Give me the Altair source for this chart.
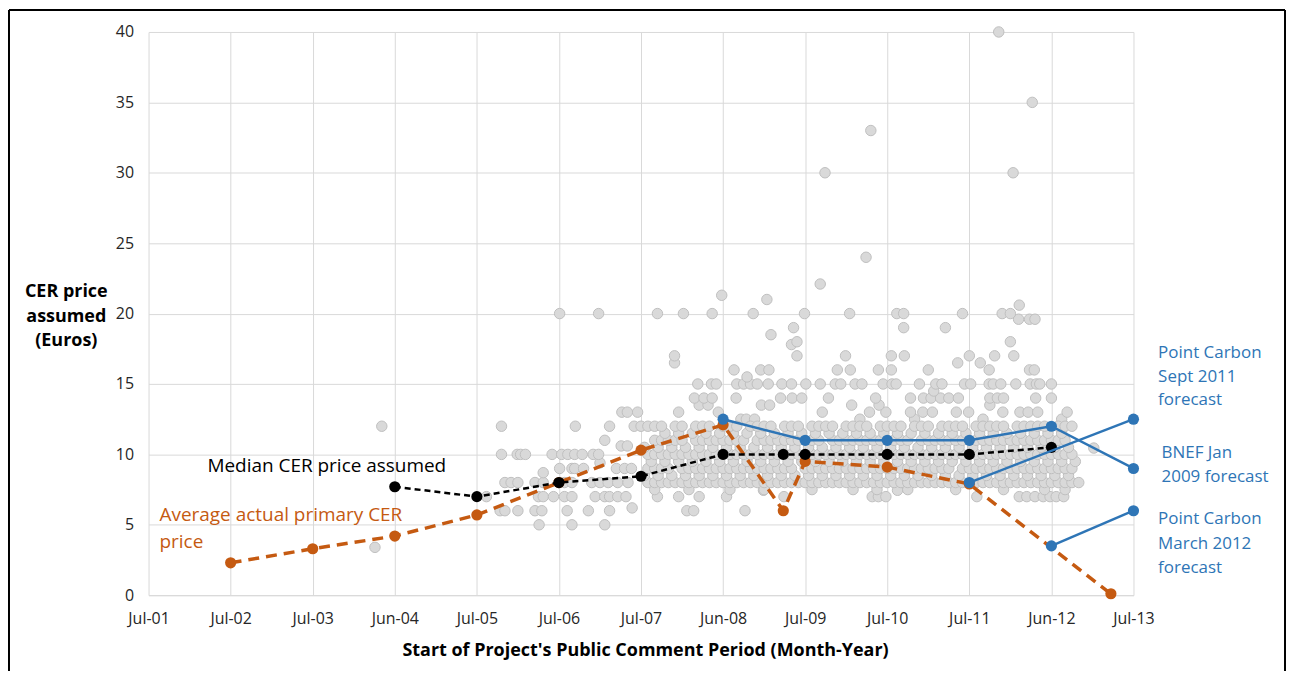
import altair as alt
import pandas as pd

# ---------------- axis ticks ----------------
tick_months = [0, 12, 24, 36, 48, 60, 72, 84, 96, 108, 120, 132, 144]
tick_labels = ["Jul-01", "Jul-02", "Jul-03", "Jun-04", "Jul-05", "Jul-06", "Jul-07",
               "Jun-08", "Jul-09", "Jul-10", "Jul-11", "Jun-12", "Jul-13"]
y_ticks = [0, 5, 10, 15, 20, 25, 30, 35, 40]

# ---------------- scatter: CER price assumed by projects (months since Jul-01) ----------------
sparse_by_price = {
    3.4: [33.1],
    5.0: [57.1, 61.9, 66.7],
    6.0: [51.4, 52.1, 54.0, 56.5, 57.5, 61.2, 64.3, 67.4, 78.7, 79.7, 87.2],
    6.2: [70.7],
    7.0: [49.4, 57.0, 57.7, 59.2, 60.8, 61.9, 65.3, 66.7, 67.4, 68.6, 69.8, 74.4, 77.5, 80.5,
          84.5, 92.9, 105.8, 106.7, 107.8, 121.1, 127.3, 128.4, 129.6, 130.8, 131.8, 132.7, 133.8],
    7.45: [89.9, 109.5],
    8.0: [52.1, 53.0, 54.0, 56.5, 57.7, 60.8, 61.9, 64.8, 66.0, 67.2, 68.6, 70.1],
    8.7: [57.7],
    9.0: [60.1, 61.9, 62.3, 63.6, 68.4, 69.6, 70.6],
    9.4: [66.0],
    10.0: [51.6, 53.9, 54.4, 55.1, 59.0, 60.4, 61.3, 62.3, 63.4, 65.0, 65.8],
    10.45: [138.2],
    10.6: [69.1, 70.0],
    11.0: [66.7],
    12.0: [34.1, 51.6, 62.4, 67.4, 71.0],
    12.5: [86.6, 87.4, 88.6, 104.0, 112.0, 122.0, 133.5],
    13.0: [69.2, 70.0, 71.5, 77.5, 83.3, 98.5, 105.4, 107.8, 111.4, 113.2, 114.6, 118.1, 119.9,
           124.9, 127.4, 128.6, 130.0, 134.3],
    13.5: [80.5, 81.8, 89.6, 90.8, 102.8, 106.8, 123.0],
    14.0: [79.8, 81.2, 82.4, 85.9, 92.4, 94.1, 95.5, 99.4, 106.3, 111.4, 113.3, 114.4, 115.8,
           117.0, 118.4, 123.0, 124.1, 125.0, 129.7, 132.0],
    14.5: [114.8],
    15.0: [80.3, 82.3, 83.0, 86.0, 87.0, 88.0, 89.0, 90.6, 92.6, 94.0, 96.1, 98.2, 100.4, 101.2,
           103.3, 104.3, 107.4, 108.7, 109.3, 112.7, 115.1, 116.0, 119.3, 120.2, 122.9, 123.5,
           124.6, 126.8, 128.9, 129.8, 130.3, 132.0],
    15.5: [87.5],
    16.0: [85.6, 89.5, 90.7, 100.7, 102.6, 106.7, 108.6, 114.0, 122.9, 128.8, 129.5],
    16.5: [76.9, 118.3, 121.6],
    17.0: [76.9, 94.8, 101.9, 108.6, 110.5, 120.0, 123.7, 126.5],
    17.8: [94.0],
    18.0: [94.8, 126.0],
    18.5: [91.0],
    19.0: [94.3, 110.4, 116.5],
    19.6: [127.2, 128.8, 129.6],
    20.0: [60.1, 65.8, 74.4, 78.2, 82.4, 88.4, 95.9, 102.5, 109.4, 110.4, 119.0, 124.8, 126.0],
    20.6: [127.3],
    21.0: [90.4],
    21.3: [83.8],
    22.1: [98.2],
    24.0: [104.9],
    30.0: [98.9, 126.4],
    33.0: [105.6],
    35.0: [129.2],
    40.0: [124.3],
}

# dense band of projects (2007-2012)
band_7_5 = [74, 79, 85, 90, 97, 103, 106.5, 111, 118, 125, 131, 134]
band_8_0 = [73, 74, 75, 76, 77, 78, 79, 80, 81, 82, 83, 84, 85, 86, 87, 88, 89, 90, 91, 92, 93,
            94, 95, 96, 97, 98, 99, 100, 101, 102, 103, 104, 105, 106, 107, 108, 109, 110, 111,
            112, 113, 114, 115, 116, 117, 118, 119, 120, 121, 122, 123, 124, 125, 126, 127, 128,
            129, 130, 131, 132, 133, 134, 135, 136]
band_8_5 = [72.5, 74.5, 76.5, 78.5, 80.5, 82.5, 84.5, 86.5, 88.5, 90.5, 92.5, 94.5, 96.5, 98.5,
            100.5, 102.5, 104.5, 106.5, 108.5, 110.5, 112.5, 114.5, 116.5, 118.5, 120.5, 122.5,
            124.5, 126.5, 128.5, 130.5, 132.5, 134.5]
band_9_0 = [73, 74, 75, 76, 78, 79, 80, 81, 82, 83, 84, 85, 86, 87, 88, 89, 90, 91, 92, 93, 94,
            96, 97, 98, 99, 100, 101, 102, 103, 104, 105, 106, 107, 108, 109, 110, 111, 112, 113,
            114, 115, 116, 117, 119, 120, 121, 122, 123, 124, 125, 126, 127, 128, 129, 130, 131,
            132, 133, 134, 135]
band_9_5 = [73.5, 75.5, 77.5, 79.5, 81.5, 83.5, 85.5, 87.5, 89.5, 91.5, 93.5, 95.5, 97.5, 99.5,
            101.5, 103.5, 105.5, 107.5, 109.5, 111.5, 113.5, 115.5, 117.5, 119.5, 121.5, 123.5,
            125.5, 127.5, 129.5, 131.5, 133.5, 135.5]
band_10_0 = [73, 74, 75, 76, 77, 78, 79, 80, 81, 82, 83, 84, 85, 86, 87, 88, 89, 90, 91, 92, 93,
             94, 95, 96, 97, 98, 99, 100, 101, 102, 103, 104, 105, 106, 107, 108, 109, 110, 111,
             112, 113, 114, 115, 116, 117, 118, 119, 120, 121, 122, 123, 124, 125, 126, 127, 128,
             129, 130, 131, 132, 133, 134, 135]
band_10_5 = [72.5, 74.5, 76.5, 78.5, 80.5, 82.5, 84.5, 86.5, 88.5, 90.5, 92.5, 94.5, 96.5, 98.5,
             100.5, 102.5, 104.5, 106.5, 108.5, 110.5, 112.5, 114.5, 116.5, 118.5, 120.5, 122.5,
             124.5, 126.5, 128.5, 130.5, 132.5, 134.5]
band_11_0 = [74, 75, 76, 77, 78, 80, 81, 82, 83, 84, 85, 86, 87, 89, 90, 91, 92, 93, 94, 95, 96,
             97, 98, 100, 101, 102, 103, 104, 105, 106, 107, 108, 109, 110, 111, 113, 114, 115,
             116, 117, 118, 119, 120, 121, 122, 123, 124, 125, 126, 127, 128, 129, 130, 131, 132,
             133, 134]
band_11_5 = [75.5, 77.5, 79.5, 81.5, 83.5, 85.5, 87.5, 89.5, 91.5, 93.5, 95.5, 97.5, 99.5,
             101.5, 103.5, 105.5, 107.5, 109.5, 111.5, 113.5, 115.5, 117.5, 119.5, 121.5, 123.5,
             125.5, 127.5, 129.5, 131.5, 133.5]
band_12_0 = [72, 73, 74, 75, 77, 78, 80, 81, 82, 84, 85, 86, 88, 89, 90, 91, 93, 94, 95, 97, 98,
             99, 100, 102, 103, 104, 105, 107, 108, 109, 110, 112, 113, 114, 116, 117, 118, 119,
             121, 122, 123, 124, 125, 127, 128, 129, 130, 131, 133, 134, 135]

band_rows = [(7.5, band_7_5), (8.0, band_8_0), (8.5, band_8_5), (9.0, band_9_0), (9.5, band_9_5),
             (10.0, band_10_0), (10.5, band_10_5), (11.0, band_11_0), (11.5, band_11_5),
             (12.0, band_12_0)]

# ---------------- lines ----------------
avg_months = [12, 24, 36, 48, 60, 72, 84, 92.8, 96, 108, 120, 140.7]
avg_prices = [2.3, 3.3, 4.2, 5.7, 8.0, 10.3, 12.1, 6.0, 9.5, 9.1, 7.9, 0.1]

median_months = [36, 48, 60, 72, 84, 92.8, 96, 108, 120, 132]
median_prices = [7.7, 7.0, 8.0, 8.45, 10.0, 10.0, 10.0, 10.0, 10.0, 10.5]

bnef_months = [84, 96, 108, 120, 132, 144]
bnef_prices = [12.5, 11.0, 11.0, 11.0, 12.0, 9.0]
pc_sept_months = [120, 144]
pc_sept_prices = [8.0, 12.5]
pc_march_months = [132, 144]
pc_march_prices = [3.5, 6.0]

# ---------------- annotations ----------------
ann_text = ["Median CER price assumed", "Average actual primary CER", "price",
            "Point Carbon", "Sept 2011", "forecast",
            "BNEF Jan", "2009 forecast",
            "Point Carbon", "March 2012", "forecast"]
ann_month = [8.6, 1.6, 1.6, 147.6, 147.6, 147.6, 148.1, 148.1, 147.6, 147.6, 147.6]
ann_price = [9.2, 5.66, 3.75, 17.2, 15.5, 13.85, 10.1, 8.4, 5.4, 3.65, 1.9]
ann_color = ["#000000", "#C55A11", "#C55A11"] + ["#2E75B6"] * 8
ann_size = [19, 19, 19] + [17] * 8

ORANGE = "#C55A11"
BLUE = "#2E75B6"
FONT = "Open Sans"

# ---------------- frames ----------------
pts = []
for p, ms in sparse_by_price.items():
    for m in ms:
        pts.append((m, p))
for p, ms in band_rows:
    for m in ms:
        pts.append((m, p))
scatter_df = pd.DataFrame(pts, columns=["month", "price"])

avg_df = pd.DataFrame({"month": avg_months, "price": avg_prices})
med_df = pd.DataFrame({"month": median_months, "price": median_prices})
fc_df = pd.concat([
    pd.DataFrame({"month": bnef_months, "price": bnef_prices, "series": "BNEF Jan 2009"}),
    pd.DataFrame({"month": pc_sept_months, "price": pc_sept_prices, "series": "PC Sept 2011"}),
    pd.DataFrame({"month": pc_march_months, "price": pc_march_prices, "series": "PC March 2012"}),
])
ann_df = pd.DataFrame({"month": ann_month, "price": ann_price, "text": ann_text,
                       "color": ann_color, "fs": ann_size})

label_expr = "[" + ",".join("'" + t + "'" for t in tick_labels) + "][round(datum.value / 12)]"

x_enc = alt.X(
    "month:Q",
    scale=alt.Scale(domain=[0, 144], nice=False, zero=False),
    axis=alt.Axis(
        values=tick_months, labelExpr=label_expr,
        title="Start of Project's Public Comment Period (Month-Year)",
        grid=True, gridColor="#D9D9D9", domain=True, domainColor="#D9D9D9",
        ticks=False, tickSize=0, labelPadding=15, labelFont=FONT, labelFontSize=16,
        labelColor="#262626", labelFlush=False, labelBound=False,
        titleFont=FONT, titleFontWeight="bold", titleFontSize=18,
        titleColor="#000000", titleX=498, titleY=55, titleBaseline="middle",
        titleAlign="center", labelOverlap=False,
    ),
)
y_enc = alt.Y(
    "price:Q",
    scale=alt.Scale(domain=[0, 40], nice=False),
    axis=alt.Axis(
        values=y_ticks, title=["CER price", "assumed", "(Euros)"],
        grid=True, gridColor="#D9D9D9", domain=False, ticks=False, tickSize=0,
        labelPadding=15, labelFont=FONT, labelFontSize=16, labelColor="#262626",
        labelFlush=False, labelBound=False,
        titleFont=FONT, titleFontWeight="bold", titleFontSize=18, titleColor="#000000",
        titleAngle=0, titleAlign="center", titleBaseline="middle", titleX=-83, titleY=260,
        titleLineHeight=25,
    ),
)

scatter = alt.Chart(scatter_df).mark_circle(
    size=110, color="#D9D9D9", stroke="#BFBFBF", strokeWidth=1, opacity=1
).encode(x=x_enc, y=y_enc)

avg_line = alt.Chart(avg_df).mark_line(
    color=ORANGE, strokeWidth=3.5, strokeDash=[11, 7]
).encode(x=x_enc, y=y_enc)
avg_pts = alt.Chart(avg_df).mark_circle(size=125, color=ORANGE, opacity=1).encode(x=x_enc, y=y_enc)

med_line = alt.Chart(med_df).mark_line(
    color="#000000", strokeWidth=2.5, strokeDash=[6, 4]
).encode(x=x_enc, y=y_enc)
med_pts = alt.Chart(med_df).mark_circle(size=125, color="#000000", opacity=1).encode(x=x_enc, y=y_enc)

fc_line = alt.Chart(fc_df).mark_line(color=BLUE, strokeWidth=2.5).encode(
    x=x_enc, y=y_enc, detail="series:N")
fc_pts = alt.Chart(fc_df).mark_circle(size=125, color=BLUE, opacity=1).encode(x=x_enc, y=y_enc)

ann = alt.Chart(ann_df).mark_text(align="left", baseline="middle", font=FONT).encode(
    x=x_enc, y=y_enc, text="text:N",
    color=alt.Color("color:N", scale=None),
    size=alt.Size("fs:Q", scale=None),
)

one = pd.DataFrame({"k": [0]})
border_left = alt.Chart(one).mark_rule(color="#000000", strokeWidth=2).encode(
    x=alt.value(-140), y=alt.value(-22), y2=alt.value(641))
border_top = alt.Chart(one).mark_rule(color="#000000", strokeWidth=2).encode(
    x=alt.value(-140), x2=alt.value(1140), y=alt.value(-22))
border_right = alt.Chart(one).mark_rule(color="#000000", strokeWidth=2).encode(
    x=alt.value(1140), y=alt.value(-22), y2=alt.value(641))

chart = alt.layer(
    scatter, avg_line, avg_pts, med_line, med_pts, fc_line, fc_pts, ann,
    border_left, border_top, border_right,
).properties(
    width=988, height=565,
    padding={"left": 141, "top": 23, "right": 153, "bottom": 76},
    autosize=alt.AutoSizeParams(type="none"),
    background="white",
).configure_view(stroke=None)

chart.save("out.html", embed_options={"renderer": "svg", "actions": False})
